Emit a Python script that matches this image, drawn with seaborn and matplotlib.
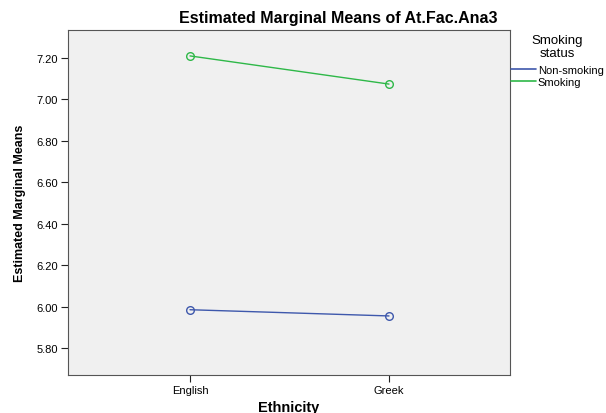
import pandas as pd
import matplotlib
matplotlib.use('Agg')
import matplotlib.pyplot as plt
from matplotlib.lines import Line2D
import seaborn as sns

# Values
ethnicity = ['English', 'Greek']
non_smoking = [5.985, 5.955]
smoking = [7.21, 7.074]
groups = ['Non-smoking', 'Smoking']
y_ticks = [5.80, 6.00, 6.20, 6.40, 6.60, 6.80, 7.00, 7.20]

df = pd.DataFrame({
    'Ethnicity': ethnicity * 2,
    'Mean': non_smoking + smoking,
    'Smoking status': [groups[0]] * 2 + [groups[1]] * 2,
})

palette = {'Non-smoking': '#3e58ac', 'Smoking': '#2eb848'}

sns.set_style('white')
plt.rcParams['font.family'] = ['Liberation Sans', 'DejaVu Sans']
plt.rcParams['text.color'] = 'black'
plt.rcParams['axes.labelcolor'] = 'black'
plt.rcParams['xtick.color'] = 'black'
plt.rcParams['ytick.color'] = 'black'

fig = plt.figure(figsize=(6.06, 4.14), dpi=100)
ax = fig.add_axes([0.1122, 0.0918, 0.7294, 0.8333])
ax.set_facecolor('#f0f0f0')

sns.lineplot(data=df, x='Ethnicity', y='Mean', hue='Smoking status',
             palette=palette, marker='o', markersize=5.5, markerfacecolor='none',
             markeredgewidth=1.0, linewidth=1.0, legend=False, ax=ax)
for line, g in zip(ax.lines, groups):
    line.set_markeredgecolor(palette[g])

ax.set_xlim(-0.613, 1.608)
ax.set_ylim(5.67, 7.335)
ax.set_yticks(y_ticks)
ax.set_yticklabels([f'{v:.2f}' for v in y_ticks], fontsize=8)
ax.set_xticks([0, 1])
ax.set_xticklabels(ethnicity, fontsize=8)
ax.tick_params(axis='both', direction='out', length=5, width=0.8,
               color='#222222', left=True, bottom=True, pad=2)

for sp in ax.spines.values():
    sp.set_color('#555555')
    sp.set_linewidth(0.8)

ax.set_xlabel('Ethnicity', fontsize=10.5, fontweight='bold', labelpad=4)
ax.set_ylabel('Estimated Marginal Means', fontsize=9, fontweight='bold',
              labelpad=8)
fig.text(338 / 606, 1 - 19 / 414, 'Estimated Marginal Means of At.Fac.Ana3',
         ha='center', va='center', fontsize=11.5, fontweight='bold')

# legend title drawn separately so the gap below it matches the reference
fig.text(557 / 606, 1 - 47.5 / 414, 'Smoking\nstatus', ha='center',
         va='center', fontsize=9.5, linespacing=1.1)
handles = [Line2D([], [], color=palette[g], linewidth=1.2) for g in groups]
leg = fig.legend(handles, groups, loc='upper left',
                 bbox_to_anchor=(509 / 606, 1 - 64 / 414),
                 fontsize=8, frameon=False, handlelength=2.2,
                 handletextpad=0.2, labelspacing=0.15, borderaxespad=0,
                 borderpad=0.2)

fig.savefig('out.png', dpi=100)
